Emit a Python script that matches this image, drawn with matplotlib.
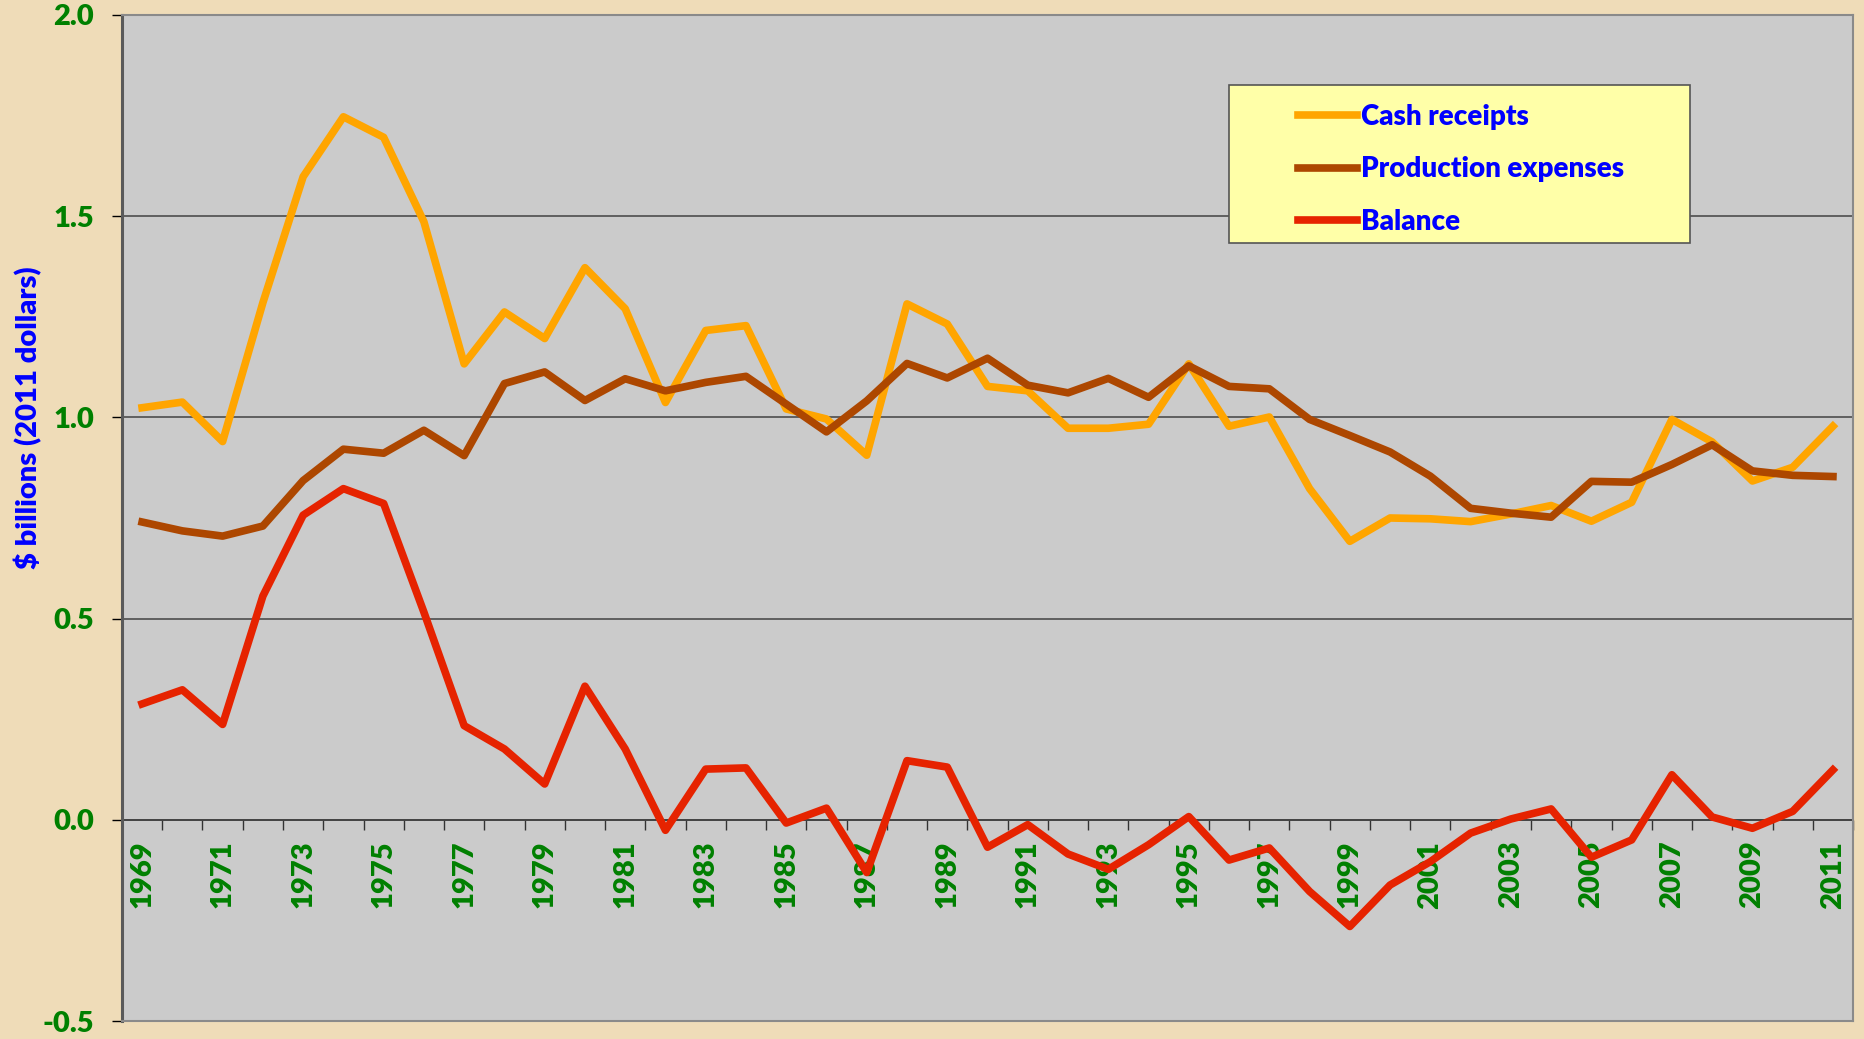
import numpy as np
import matplotlib.pyplot as plt
from matplotlib.patches import Rectangle

# 연도별 값 ($ billions, 2011 dollars) - 그림에서 읽은 값
years = list(range(1969, 2012))
cash_receipts = [1.024, 1.038, 0.940, 1.285, 1.598, 1.747, 1.696, 1.486, 1.133, 1.262,
                 1.196, 1.372, 1.270, 1.037, 1.216, 1.228, 1.021, 0.996, 0.906, 1.282,
                 1.232, 1.077, 1.066, 0.973, 0.973, 0.983, 1.133, 0.978, 1.001, 0.823,
                 0.692, 0.750, 0.748, 0.741, 0.760, 0.781, 0.742, 0.789, 0.995, 0.939,
                 0.842, 0.876, 0.978]
production_expenses = [0.740, 0.718, 0.705, 0.730, 0.843, 0.921, 0.911, 0.968, 0.905, 1.084,
                       1.113, 1.042, 1.096, 1.066, 1.087, 1.102, 1.033, 0.964, 1.041, 1.134,
                       1.098, 1.147, 1.080, 1.061, 1.097, 1.050, 1.128, 1.077, 1.071, 0.995,
                       0.955, 0.914, 0.854, 0.774, 0.762, 0.752, 0.841, 0.839, 0.883, 0.932,
                       0.867, 0.856, 0.853]
balance = [0.288, 0.323, 0.237, 0.556, 0.757, 0.823, 0.786, 0.516, 0.234, 0.176,
           0.089, 0.332, 0.176, -0.026, 0.126, 0.129, -0.008, 0.029, -0.131, 0.147,
           0.131, -0.068, -0.012, -0.085, -0.123, -0.062, 0.008, -0.100, -0.070, -0.178,
           -0.265, -0.162, -0.104, -0.033, 0.002, 0.027, -0.093, -0.050, 0.112, 0.007,
           -0.021, 0.021, 0.124]
y_ticks = [-0.5, 0.0, 0.5, 1.0, 1.5, 2.0]

GREEN = '#008000'
BLUE = '#0000FF'
WEIGHT = 'heavy'
plt.rcParams['font.family'] = ['Lato', 'DejaVu Sans']

fig = plt.figure(figsize=(18.65, 10.39), dpi=100, facecolor='#EFDCB8')
ax = fig.add_axes([0.0654, 0.0173, 0.9282, 0.9683])
ax.set_facecolor('#CBCBCB')

x = np.arange(len(years))
ax.plot(x, cash_receipts, color='#FFA500', lw=5.5, label='Cash receipts', zorder=3)
ax.plot(x, production_expenses, color='#AD4700', lw=5.5, label='Production expenses', zorder=3)
ax.plot(x, balance, color='#E62300', lw=5.5, label='Balance', zorder=3)

ax.set_xlim(-0.5, len(years) - 0.5)
ax.set_ylim(-0.5, 2.0)

# y축
ax.set_yticks(y_ticks)
ax.set_yticklabels([f'{v:.1f}' for v in y_ticks], color=GREEN, fontsize=21, fontweight=WEIGHT)
ax.tick_params(axis='y', direction='out', length=7, width=1, pad=13)
ax.grid(axis='y', color='#4d4d4d', lw=1.2)
ax.set_axisbelow(True)
ax.set_ylabel('$ billions (2011 dollars)', color=BLUE, fontsize=21, fontweight=WEIGHT)
ax.yaxis.set_label_coords(-0.046, 0.600)

# 원래 x축은 숨기고 y=0 위치에 보조 x축
ax.set_xticks([])
for side in ['top', 'right', 'bottom']:
    ax.spines[side].set_color('#8a8a8a')
    ax.spines[side].set_linewidth(1.5)
ax.spines['left'].set_color('#5a5a5a')
ax.spines['left'].set_linewidth(2.2)

secax = ax.secondary_xaxis((0 - (-0.5)) / 2.5)
secax.set_xticks(x[::2])
secax.set_xticklabels([str(y) for y in years[::2]], rotation=90, color=GREEN,
                      fontsize=21, fontweight=WEIGHT)
secax.set_xticks(np.arange(-0.5, len(years)), minor=True)
secax.tick_params(which='major', length=0, pad=15)
secax.tick_params(which='minor', direction='out', length=7, width=1, color='#333333')
secax.spines['bottom'].set_color('black')
secax.spines['bottom'].set_linewidth(1.2)

# 범례 박스
ax.add_patch(Rectangle((0.6395, 0.7734), 0.2663, 0.157, transform=ax.transAxes,
                       facecolor='#FFFFA8', edgecolor='#555555', lw=1.2, zorder=4))
leg = ax.legend(loc='upper left', bbox_to_anchor=(0.6795, 0.9115), frameon=False,
                handlelength=2.1, handletextpad=0.15, labelspacing=0.95,
                borderpad=0, borderaxespad=0, prop={'weight': WEIGHT, 'size': 20})
leg.set_zorder(5)
for t in leg.get_texts():
    t.set_color(BLUE)

plt.savefig('out.png', dpi=100, facecolor=fig.get_facecolor())
